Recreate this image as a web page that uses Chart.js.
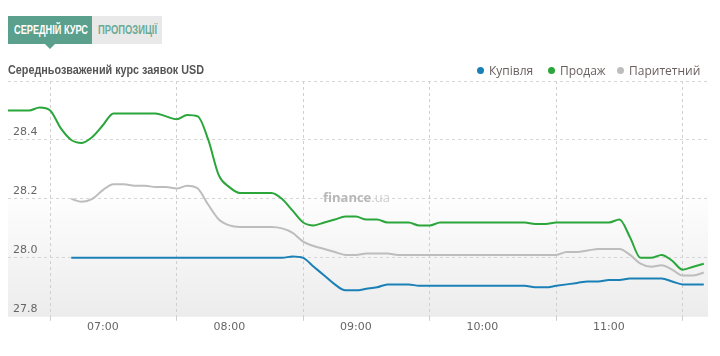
<!DOCTYPE html>
<html><head><meta charset="utf-8">
<script src="https://cdn.jsdelivr.net/npm/chart.js@4.4.1/dist/chart.umd.min.js"></script>
<style>
html,body{margin:0;padding:0;background:#fff;width:720px;height:356px;overflow:hidden;}
#wrap{position:relative;width:720px;height:356px;}
#c{position:absolute;left:0;top:0;}
.tab{position:absolute;top:16px;height:28px;line-height:28px;font-family:'Liberation Sans',sans-serif;font-weight:bold;font-size:13px;white-space:nowrap;overflow:visible;}
.tab span,#title span{display:inline-block;transform-origin:0 50%;}
#t1{left:8px;width:84px;background:#5aa08c;color:#fff;}
#t2{left:92px;width:70px;background:#e9e9e9;color:#6aab98;}
#tri{position:absolute;left:45px;top:44px;width:0;height:0;border-left:5px solid transparent;border-right:5px solid transparent;border-top:5px solid #5aa08c;}
#title{position:absolute;left:8px;top:62px;font-family:'Liberation Sans',sans-serif;font-weight:bold;font-size:13.5px;color:#555;white-space:nowrap;}
.lg{position:absolute;top:63px;font-family:'Open Sans',sans-serif;font-size:12px;color:#6a5e5e;white-space:nowrap;line-height:16px;}
.dot{display:inline-block;width:7px;height:7px;border-radius:50%;margin-right:5px;vertical-align:1px;}
#wm{position:absolute;left:323px;top:188px;font-family:'Open Sans',sans-serif;font-size:13px;color:#bbb;white-space:nowrap;}
#wm b{font-weight:bold;color:#b8b8b8;}
#wm span{color:#cfcfcf;}
</style></head>
<body><div id="wrap">
<canvas id="c" width="720" height="356"></canvas>
<div class="tab" id="t1"><span id="s1">СЕРЕДНІЙ КУРС</span></div>
<div class="tab" id="t2"><span id="s2">ПРОПОЗИЦІЇ</span></div>
<div id="tri"></div>
<div id="title"><span id="s3">Середньозважений курс заявок USD</span></div>
<div class="lg" style="left:477px"><span class="dot" style="background:#1a80b6"></span>Купівля</div>
<div class="lg" style="left:548px"><span class="dot" style="background:#2ba63b"></span>Продаж</div>
<div class="lg" style="left:617px"><span class="dot" style="background:#bdbdbd"></span>Паритетний</div>
<div id="wm"><b>finance</b><span>.ua</span></div>
</div>
<script>
const times = ['06:15','06:20','06:25','06:30','06:35','06:40','06:45','06:50','06:55','07:00',
'07:05','07:10','07:15','07:20','07:25','07:30','07:35','07:40','07:45','07:50','07:55','08:00',
'08:05','08:10','08:15','08:20','08:25','08:30','08:35','08:40','08:45','08:50','08:55','09:00',
'09:05','09:10','09:15','09:20','09:25','09:30','09:35','09:40','09:45','09:50','09:55','10:00',
'10:05','10:10','10:15','10:20','10:25','10:30','10:35','10:40','10:45','10:50','10:55','11:00',
'11:05','11:10','11:15','11:20','11:25','11:30','11:35','11:40','11:45'];

const sell = [28.50,28.50,28.50,28.51,28.50,28.44,28.40,28.39,28.41,28.45,
28.49,28.49,28.49,28.49,28.49,28.48,28.47,28.485,28.48,28.40,28.28,28.24,
28.22,28.22,28.22,28.22,28.20,28.16,28.12,28.11,28.12,28.13,28.14,28.14,
28.13,28.13,28.12,28.12,28.12,28.11,28.11,28.12,28.12,28.12,28.12,28.12,
28.12,28.12,28.12,28.12,28.115,28.115,28.12,28.12,28.12,28.12,28.12,28.12,
28.13,28.07,28.00,28.00,28.01,27.99,27.96,27.97,27.98];

const parity = [null,null,null,null,null,null,28.20,28.19,28.20,28.23,
28.25,28.25,28.245,28.245,28.24,28.24,28.235,28.245,28.235,28.18,28.13,28.11,
28.105,28.105,28.105,28.105,28.10,28.085,28.055,28.04,28.03,28.02,28.01,28.01,
28.015,28.015,28.015,28.01,28.01,28.01,28.01,28.01,28.01,28.01,28.01,28.01,
28.01,28.01,28.01,28.01,28.01,28.01,28.01,28.02,28.02,28.025,28.03,28.03,
28.03,28.01,27.98,27.97,27.975,27.96,27.94,27.94,27.95];

const buy = [null,null,null,null,null,null,28.00,28.00,28.00,28.00,
28.00,28.00,28.00,28.00,28.00,28.00,28.00,28.00,28.00,28.00,28.00,28.00,
28.00,28.00,28.00,28.00,28.00,28.005,28.00,27.97,27.94,27.91,27.89,27.89,
27.895,27.90,27.91,27.91,27.91,27.905,27.905,27.905,27.905,27.905,27.905,27.905,
27.905,27.905,27.905,27.905,27.90,27.90,27.905,27.91,27.915,27.92,27.92,27.925,
27.925,27.93,27.93,27.93,27.93,27.92,27.91,27.91,27.91];

const hourLabels = ['07:00','08:00','09:00','10:00','11:00'];
const gridTimes = ['06:35','07:35','08:35','09:35','10:35','11:35'];
const yTicks = [27.8, 28.0, 28.2, 28.4, 28.6];
const xRange = ['06:15','11:47'];
const yRange = [27.8, 28.6];

// condense header texts to the reference widths
function fitW(id, w, left) {
  const el = document.getElementById(id);
  const r = w / el.getBoundingClientRect().width;
  el.style.transform = 'scaleX(' + r + ')';
  if (left != null) el.style.marginLeft = left + 'px';
}
fitW('s1', 74, 6);
fitW('s2', 59, 6);
fitW('s3', 196);

const toMin = s => { const p = s.split(':'); return (+p[0])*60 + (+p[1]); };
const pts = arr => times.map((t,i) => ({x: toMin(t), y: arr[i]}));
const hourMins = hourLabels.map(toMin);
const gridMins = gridTimes.map(toMin);

const bgPlugin = {
  id: 'bg',
  beforeDraw(chart) {
    const {ctx, chartArea: a} = chart;
    const g = ctx.createLinearGradient(0, a.top, 0, a.bottom);
    g.addColorStop(0, '#ffffff');
    g.addColorStop(0.45, '#ffffff');
    g.addColorStop(1, '#ececec');
    ctx.save(); ctx.fillStyle = g; ctx.fillRect(a.left, a.top, a.right - a.left, a.bottom - a.top); ctx.restore();
  }
};

const line = (label, data, color) => ({
  label, data: pts(data), borderColor: color, backgroundColor: color,
  borderWidth: 2, pointRadius: 0, cubicInterpolationMode: 'monotone', fill: false, spanGaps: false
});

new Chart(document.getElementById('c'), {
  type: 'line',
  data: { datasets: [
    line('Паритетний', parity, '#bdbdbd'),
    line('Продаж', sell, '#2ba63b'),
    line('Купівля', buy, '#1a80b6')
  ]},
  plugins: [bgPlugin],
  options: {
    responsive: false, animation: false,
    layout: { padding: { left: 8, right: 12, top: 81, bottom: 22 } },
    plugins: { legend: { display: false }, tooltip: { enabled: false } },
    scales: {
      x: {
        type: 'linear', min: toMin(xRange[0]), max: toMin(xRange[1]),
        afterBuildTicks: s => { s.ticks = gridMins.concat(hourMins).sort((a,b)=>a-b).map(v => ({value: v})); },
        ticks: {
          autoSkip: false, maxRotation: 0, padding: 0,
          font: { family: 'DejaVu Sans', size: 11 }, color: '#666',
          callback: v => { const i = hourMins.indexOf(v); return i >= 0 ? hourLabels[i] : ''; }
        },
        grid: {
          color: c => (c.tick && gridMins.includes(c.tick.value)) ? '#cfcfcf' : 'rgba(0,0,0,0)',
          tickLength: 4, lineWidth: 1
        },
        border: { display: false, dash: [3, 3] }
      },
      y: {
        min: yRange[0], max: yRange[1],
        afterBuildTicks: s => { s.ticks = yTicks.map(v => ({value: v})); },
        afterFit: s => { s.width = 0; },
        ticks: {
          mirror: true, padding: 5, labelOffset: -8,
          font: { family: 'DejaVu Sans', size: 11 }, color: '#666',
          callback: v => Math.abs(v - yRange[1]) < 1e-6 ? '' : Number(v).toFixed(1)
        },
        grid: {
          color: c => (c.tick && Math.abs(c.tick.value - yRange[0]) < 1e-6) ? 'rgba(0,0,0,0)' : '#d6d6d6',
          drawTicks: false, lineWidth: 1
        },
        border: { display: false, dash: [3, 3] }
      }
    }
  }
});
</script>
</body></html>
